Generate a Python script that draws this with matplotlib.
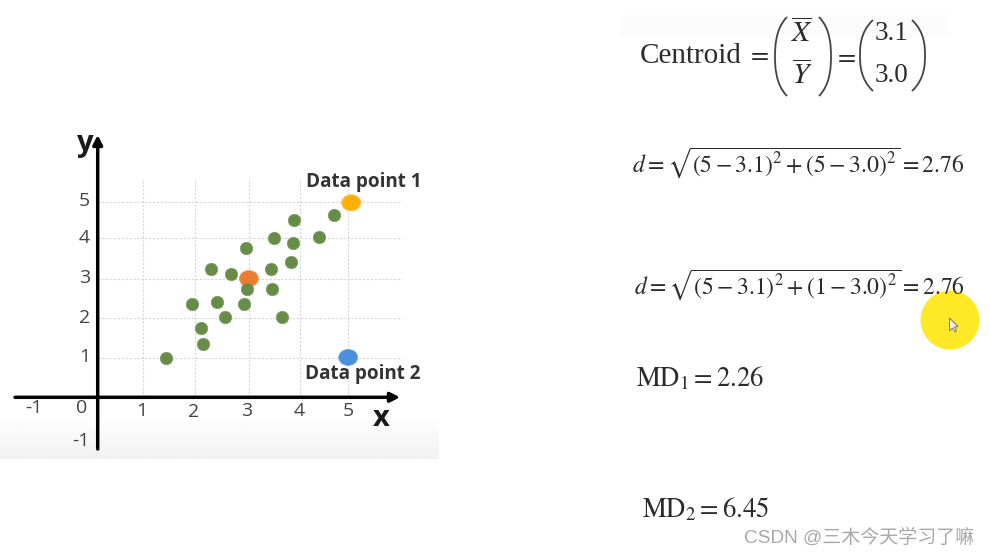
import numpy as np
import matplotlib
matplotlib.use("Agg")
import matplotlib.pyplot as plt
from matplotlib.patches import Ellipse, Circle, PathPatch, Polygon, Rectangle
from matplotlib.path import Path

plt.rcParams['font.family'] = ['Open Sans', 'DejaVu Sans']
plt.rcParams['mathtext.fontset'] = 'stix'

# =====================================
# DATA
# =====================================
green_x = [1.36, 2.08, 2.05, 1.88, 2.37, 2.53, 2.91, 2.96, 2.25, 2.65,
           2.94, 3.44, 3.45, 3.66, 3.84, 3.87, 3.49, 3.90, 4.40, 4.68]
green_y = [1.00, 1.37, 1.77, 2.39, 2.44, 2.06, 2.39, 2.78, 3.29, 3.16,
           3.81, 3.29, 2.78, 2.06, 3.47, 3.96, 4.08, 4.53, 4.11, 4.67]

centroid = (3.0, 3.04)
point_1 = (5.03, 4.98)
point_2 = (4.97, 1.02)

grid_x = [0.90, 1.93, 3.00, 4.01, 4.96]
grid_y = [1.01, 2.03, 3.03, 4.08, 5.00]

x_tick_labels = ['-1', '0', '1', '2', '3', '4', '5']
x_tick_px = [34, 82, 142, 194, 247, 299, 348]
x_tick_py = [408, 408, 411, 412, 411, 411, 411]
y_tick_labels = ['5', '4', '3', '2', '1', '-1']
y_tick_py = [201, 238, 278, 318, 357, 441]

# pixel scale of the plotted chart
X0, Y0 = 97.7, 397.3
SX, SY = 50.4, 39.06
W, H = 990, 556

fig = plt.figure(figsize=(W / 100, H / 100), dpi=100, facecolor='white')

# =====================================
# 1) PAGE LAYER (pixel coordinates)
# =====================================
bg = fig.add_axes([0, 0, 1, 1])
bg.set_xlim(0, W)
bg.set_ylim(H, 0)
bg.axis("off")

# grey fade under the chart
fade = np.linspace(1.0, 0.945, 64).reshape(-1, 1)
bg.imshow(fade, extent=(0, 439, 459, 415), cmap='gray', vmin=0, vmax=1, aspect='auto')
bg.set_xlim(0, W)
bg.set_ylim(H, 0)
bg.add_patch(Rectangle((620, 15), 330, 22, color='#fcfcfc', lw=0))

# =====================================
# 2) SCATTER CHART
# =====================================
ax = fig.add_axes([0, 1 - 459 / H, 440 / W, (459 - 125) / H])
ax.patch.set_alpha(0)
ax.set_xlim((0 - X0) / SX, (440 - X0) / SX)
ax.set_ylim((Y0 - 459) / SY, (Y0 - 125) / SY)
ax.axis("off")

ax.vlines(grid_x, 0, 5.6, color='#d6d6d6', lw=0.8, ls=(0, (2, 1.5)), zorder=1)
ax.hlines(grid_y, 0, 6.03, color='#d6d6d6', lw=0.8, ls=(0, (2, 1.5)), zorder=1)

ax.add_patch(Ellipse(centroid, 19 / SX, 16 / SY, fc='#ED7D31', ec='#F0935A', lw=0.5, zorder=2))
ax.scatter(green_x, green_y, s=80, color='#678C47', edgecolors='#7C9C60', linewidths=0.5, zorder=3)
ax.add_patch(Ellipse(point_1, 19 / SX, 16 / SY, fc='#FFB000', ec='#F7C65A', lw=0.7, zorder=3))
ax.add_patch(Ellipse(point_2, 19 / SX, 16 / SY, fc='#4A90DC', ec='#6FA6E0', lw=0.5, zorder=3))

arrow = dict(arrowstyle='-|>,head_length=0.55,head_width=0.28', color='black', lw=2.5,
             shrinkA=0, shrinkB=0)
ax.annotate('', xy=((400 - X0) / SX, 0), xytext=((15 - X0) / SX, 0), arrowprops=arrow, zorder=4)
ax.annotate('', xy=(0, (Y0 - 135) / SY), xytext=(0, (Y0 - 449) / SY), arrowprops=arrow, zorder=4)

# =====================================
# 3) TEXT OVER THE CHART
# =====================================
pg = fig.add_axes([0, 0, 1, 1])
pg.patch.set_alpha(0)
pg.set_xlim(0, W)
pg.set_ylim(H, 0)
pg.axis("off")

for lab, px, py in zip(x_tick_labels, x_tick_px, x_tick_py):
    pg.text(px, py, lab, fontsize=14, color='#444444', ha='center', va='center')
for lab, py in zip(y_tick_labels, y_tick_py):
    pg.text(90, py, lab, fontsize=14, color='#444444', ha='right', va='center')

pg.text(85, 144, 'y', fontsize=21, fontweight='bold', color='#1a1a1a', ha='center', va='center')
pg.text(381, 418, 'x', fontsize=21, fontweight='bold', color='#1a1a1a', ha='center', va='center')
pg.text(363.5, 182, 'Data point 1', fontsize=13.6, fontweight='bold', color='#333333', ha='center', va='center')
pg.text(363, 374, 'Data point 2', fontsize=13.6, fontweight='bold', color='#333333', ha='center', va='center')

# =====================================
# 4) FORMULAS
# =====================================
ink = '#2b2b2b'


def paren(x, top, bottom, bulge, lw=1.3):
    # one tall bracket, bulge < 0 opens right, bulge > 0 opens left
    mid = (top + bottom) / 2
    verts = [(x, top), (x + bulge, top + 12), (x + bulge, mid - 8), (x + bulge, mid),
             (x + bulge, mid + 8), (x + bulge, bottom - 12), (x, bottom)]
    codes = [Path.MOVETO] + [Path.CURVE4] * 6
    pg.add_patch(PathPatch(Path(verts, codes), fc='none', ec='#444444', lw=lw))


pg.text(640, 63, 'Centroid', fontsize=21, family=['Liberation Serif'], color=ink, va='baseline')
pg.text(758, 55, r'$=$', fontsize=19, color=ink, ha='center', va='center')
pg.text(802, 35, r'$\overline{X}$', fontsize=21, color=ink, ha='center', va='center')
pg.text(802, 77, r'$\overline{Y}$', fontsize=21, color=ink, ha='center', va='center')
paren(787, 17, 96, -12)
paren(819, 17, 96, 12)
pg.text(845, 56, r'$=$', fontsize=19, color=ink, ha='center', va='center')
pg.text(892, 34, '3.1', fontsize=19.5, family=['Liberation Serif'], color=ink, ha='center', va='center')
pg.text(892, 75, '3.0', fontsize=19.5, family=['Liberation Serif'], color=ink, ha='center', va='center')
paren(873, 20, 91, -13)
paren(912, 20, 91, 13)

pg.text(632, 163, r'$d=\sqrt{(5-3.1)^2+(5-3.0)^2}=2.76$', fontsize=17.1, color=ink, va='center')
pg.text(634, 285, r'$d=\sqrt{(5-3.1)^2+(1-3.0)^2}=2.76$', fontsize=17, color=ink, va='center')
pg.text(636, 379, r'$\mathrm{MD}_1=2.26$', fontsize=19.3, color=ink, va='center')
pg.text(642, 510, r'$\mathrm{MD}_2=6.45$', fontsize=19.3, color=ink, va='center')

# pointer highlight
pg.add_patch(Circle((950, 320), 29.5, fc='#FFE81F', ec='none', alpha=0.97))
pg.add_patch(Polygon([(949.5, 318), (949.5, 331), (952.5, 328), (955, 332), (956.5, 331),
                      (954.5, 327), (958, 326.5)], fc='#f2eee0', ec='#777777', lw=0.7))

# watermark
pg.text(974, 538, 'CSDN @三木今天学习了嘛', fontsize=13.65, color='#a8a8a8', ha='right', va='center',
        family=['Liberation Sans', 'Noto Sans CJK SC'])

plt.savefig("out.png", dpi=100)
